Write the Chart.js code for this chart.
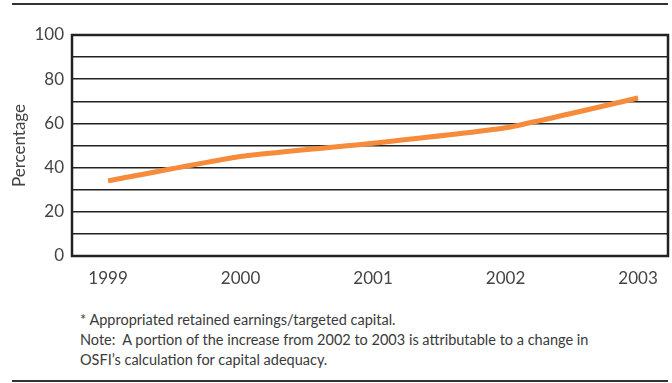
<!DOCTYPE html>
<html>
<head>
<meta charset="utf-8">
<script src="https://cdn.jsdelivr.net/npm/chart.js@4/dist/chart.umd.min.js"></script>
<style>
  html, body { margin: 0; padding: 0; background: #fff; }
  #wrap { position: relative; width: 672px; height: 383px; overflow: hidden; }
  #chart { position: absolute; left: 0; top: 0; }
  .rule { position: absolute; left: 12px; width: 656px; height: 2px; background: #333; }
  #notes {
    position: absolute; left: 80px; top: 310px;
    font-family: Lato, "Open Sans", sans-serif; font-size: 14.5px; line-height: 20px; color: #3a3a3a;
  }
</style>
</head>
<body>
<div id="wrap">
  <div class="rule" style="top:3px"></div>
  <canvas id="chart" width="672" height="300"></canvas>
  <div id="notes">
    * Appropriated retained earnings/targeted capital.<br>
    Note:&nbsp; A portion of the increase from 2002 to 2003 is attributable to a change in<br>
    OSFI’s calculation for capital adequacy.
  </div>
  <div class="rule" style="top:380px"></div>
</div>
<script>
  // Ratio by year, read as a percentage
  var YEARS  = [1999, 2000, 2001, 2002, 2003];
  var VALUES = [34, 45, 51, 58, 71.5];
  var Y_LABELS = [0, 20, 40, 60, 80, 100];

  var FONT = 'Lato, "Open Sans", sans-serif';
  var INK = '#444';

  // box around the plot area
  var frame = {
    id: 'frame',
    afterDraw: function (chart) {
      var a = chart.chartArea, c = chart.ctx;
      c.save();
      c.strokeStyle = '#222';
      c.lineWidth = 2.5;
      c.strokeRect(a.left, a.top, a.right - a.left, a.bottom - a.top);
      c.restore();
    }
  };

  new Chart(document.getElementById('chart').getContext('2d'), {
    type: 'line',
    data: {
      datasets: [{
        data: YEARS.map(function (y, i) { return { x: y, y: VALUES[i] }; }),
        borderColor: '#F68B3C',
        borderWidth: 5,
        pointRadius: 0,
        tension: 0.15,
        borderCapStyle: 'butt'
      }]
    },
    options: {
      responsive: false,
      animation: false,
      layout: { padding: { left: 9, right: 4, top: 35, bottom: 0 } },
      plugins: { legend: { display: false }, tooltip: { enabled: false } },
      scales: {
        x: {
          type: 'linear',
          min: 1998.728, max: 2003.226,
          afterBuildTicks: function (axis) {
            axis.ticks = YEARS.map(function (y) { return { value: y }; });
          },
          afterFit: function (axis) { axis.height = 44; },
          grid: { display: false },
          border: { display: false },
          ticks: {
            color: INK, font: { family: FONT, size: 17 }, padding: 4,
            maxRotation: 0,
            callback: function (v) { return String(v); }
          }
        },
        y: {
          min: 0, max: 100,
          afterFit: function (axis) { axis.width = 63; },
          grid: { color: '#222', lineWidth: 1.5, drawTicks: false },
          border: { display: false },
          ticks: {
            stepSize: 10, autoSkip: false, color: INK, font: { family: FONT, size: 17 }, padding: 8,
            callback: function (v) { return Y_LABELS.indexOf(v) >= 0 ? String(v) : ''; }
          },
          title: {
            display: true, text: 'Percentage', color: INK,
            font: { family: FONT, size: 17 }, padding: 0
          }
        }
      }
    },
    plugins: [frame]
  });
</script>
</body>
</html>
